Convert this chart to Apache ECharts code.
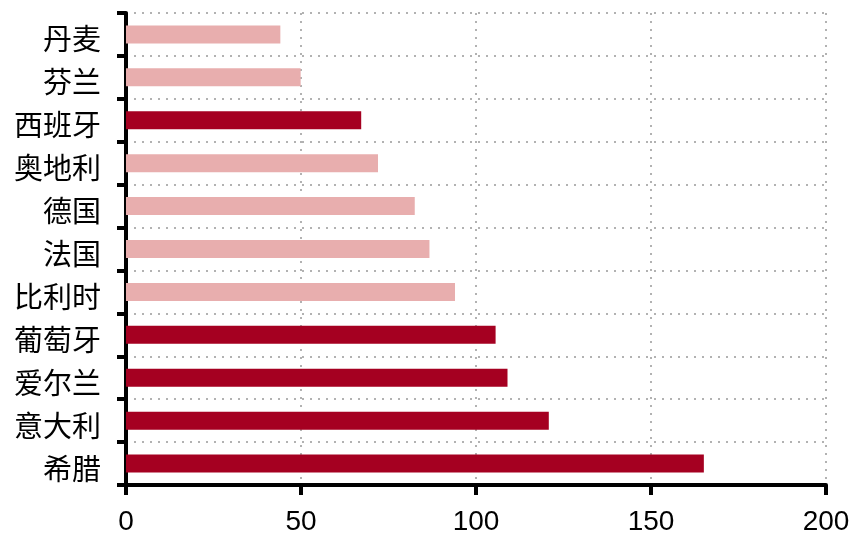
<!DOCTYPE html>
<html>
<head>
<meta charset="utf-8">
<script src="https://cdn.jsdelivr.net/npm/echarts@6/dist/echarts.min.js"></script>
<style>html,body{margin:0;padding:0;background:#fff;}#c{width:854px;height:536px;}</style>
</head>
<body>
<div id="c"></div>
<script>
const categories = ['希腊','意大利','爱尔兰','葡萄牙','比利时','法国','德国','奥地利','西班牙','芬兰','丹麦'];
const values = [165.1, 120.8, 109.0, 105.6, 94.0, 86.7, 82.5, 72.0, 67.2, 49.9, 44.1];
const highlighted = ['希腊','意大利','爱尔兰','葡萄牙','西班牙'];
const xTicks = [0, 50, 100, 150, 200];

const DARK = '#A50021';
const LIGHT = '#E8AEAE';
const FONT = '"Liberation Sans", "Noto Sans CJK SC", sans-serif';

const chart = echarts.init(document.getElementById('c'), null, {renderer: 'canvas'});
chart.setOption({
  animation: false,
  backgroundColor: '#fff',
  grid: {left: 126, right: 28, top: 13, bottom: 50, containLabel: false},
  xAxis: {
    type: 'value',
    min: xTicks[0],
    max: xTicks[xTicks.length - 1],
    interval: xTicks[1] - xTicks[0],
    axisLine: {show: true, lineStyle: {color: '#000', width: 4}},
    axisTick: {show: true, length: 10, lineStyle: {color: '#000', width: 4}},
    axisLabel: {color: '#000', fontSize: 28, fontFamily: FONT, margin: 23},
    splitLine: {show: true, lineStyle: {color: '#999', type: [2, 6], width: 1.5}}
  },
  yAxis: {
    type: 'category',
    data: categories,
    axisLine: {show: true, lineStyle: {color: '#000', width: 4}},
    axisTick: {show: true, length: 9, lineStyle: {color: '#000', width: 4}},
    axisLabel: {
      margin: 25,
      formatter: function (v) { return '{a|' + v + '}'; },
      rich: {a: {color: '#000', fontSize: 29, fontFamily: FONT, padding: [16, 0, 0, 0]}}
    },
    splitLine: {show: true, lineStyle: {color: '#999', type: [2, 6], width: 1.5}}
  },
  series: [{
    type: 'bar',
    data: values,
    barWidth: 18,
    itemStyle: {
      color: function (p) { return highlighted.indexOf(p.name) >= 0 ? DARK : LIGHT; }
    }
  }]
});
</script>
</body>
</html>
